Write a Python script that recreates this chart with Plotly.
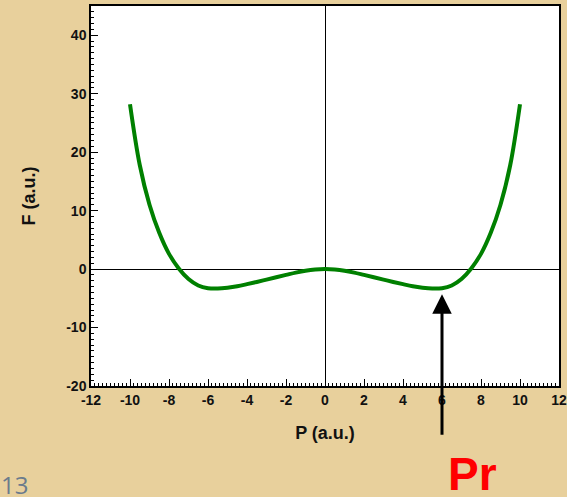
import plotly.graph_objects as go

# free energy curve (right half, mirrored for the left)
p_half = [0, 0.5, 1, 1.5, 2, 2.5, 3, 3.5, 4, 4.5, 5, 5.5, 6, 6.5, 7, 7.5, 8, 8.5, 9, 9.5, 10]
f_half = [0, -0.07, -0.27, -0.6, -1.0, -1.4, -1.8, -2.2, -2.58, -2.93, -3.18, -3.33,
          -3.27, -2.8, -1.7, 0.1, 2.6, 6.2, 11.0, 17.8, 28.2]

P = [-p for p in p_half[::-1]] + p_half[1:]
F = f_half[::-1] + f_half[1:]

x_ticks = [-12, -10, -8, -6, -4, -2, 0, 2, 4, 6, 8, 10, 12]
y_ticks = [-20, -10, 0, 10, 20, 30, 40]

pr_x = 6      # remanent polarisation marked by the arrow
pr_tip = -4.3

bg = "#E8D09C"
axis_font = dict(family="Liberation Sans, Arial", size=14, color="#111111", weight="bold")
title_font = dict(family="Liberation Sans, Arial", size=18, color="#111111", weight="bold")

fig = go.Figure()

fig.add_trace(go.Scatter(
    x=P, y=F,
    mode="lines",
    line=dict(color="#008000", width=4, shape="spline", smoothing=1),
    showlegend=False,
    hoverinfo="skip"
))

fig.update_xaxes(
    range=[-12, 12],
    tickvals=x_ticks, ticktext=[str(v) for v in x_ticks],
    ticks="inside", ticklen=7, tickwidth=1, tickcolor="black",
    minor=dict(dtick=0.2, ticks="inside", ticklen=3, tickcolor="black"),
    showline=True, linecolor="black", linewidth=1.5, mirror=True,
    showgrid=False,
    zeroline=True, zerolinecolor="black", zerolinewidth=1,
    tickfont=axis_font,
    automargin=False,
    title=dict(text="P (a.u.)", font=title_font, standoff=20)
)

fig.update_yaxes(
    range=[-20, 45],
    tickvals=y_ticks, ticktext=[str(v) for v in y_ticks],
    ticks="inside", ticklen=7, tickwidth=1, tickcolor="black",
    minor=dict(dtick=1, ticks="inside", ticklen=3, tickcolor="black"),
    showline=True, linecolor="black", linewidth=1.5, mirror=True,
    showgrid=False,
    zeroline=True, zerolinecolor="black", zerolinewidth=1,
    tickfont=axis_font,
    automargin=False,
    title=dict(text="F (a.u.)", font=title_font, standoff=26)
)

# arrow pointing at the minimum
fig.add_annotation(
    x=pr_x, y=pr_tip, xref="x", yref="y",
    ax=0, ay=142, axref="pixel", ayref="pixel",
    text="", showarrow=True,
    arrowhead=2, arrowsize=1.3, arrowwidth=3, arrowcolor="black"
)

# free-text labels, placed in paper units of the 468x380 plot area
fig.add_annotation(
    x=(472 - 91) / 468, y=(497 - 111 - 474) / 380, xref="paper", yref="paper",
    xanchor="center", yanchor="middle",
    text="Pr", showarrow=False,
    font=dict(family="Liberation Sans, Arial", size=46, color="#FF0000", weight="bold")
)

fig.add_annotation(
    x=(14 - 91) / 468, y=(497 - 111 - 484) / 380, xref="paper", yref="paper",
    xanchor="center", yanchor="middle",
    text="13", showarrow=False,
    font=dict(family="Open Sans", size=24, color="#6B7B8C")
)

fig.update_layout(
    width=567, height=497,
    margin=dict(l=91, r=8, t=6, b=111),
    paper_bgcolor=bg,
    plot_bgcolor="white",
)

fig.write_html("out.html", config={"displayModeBar": False},
               post_script="document.body.style.margin='0';")
